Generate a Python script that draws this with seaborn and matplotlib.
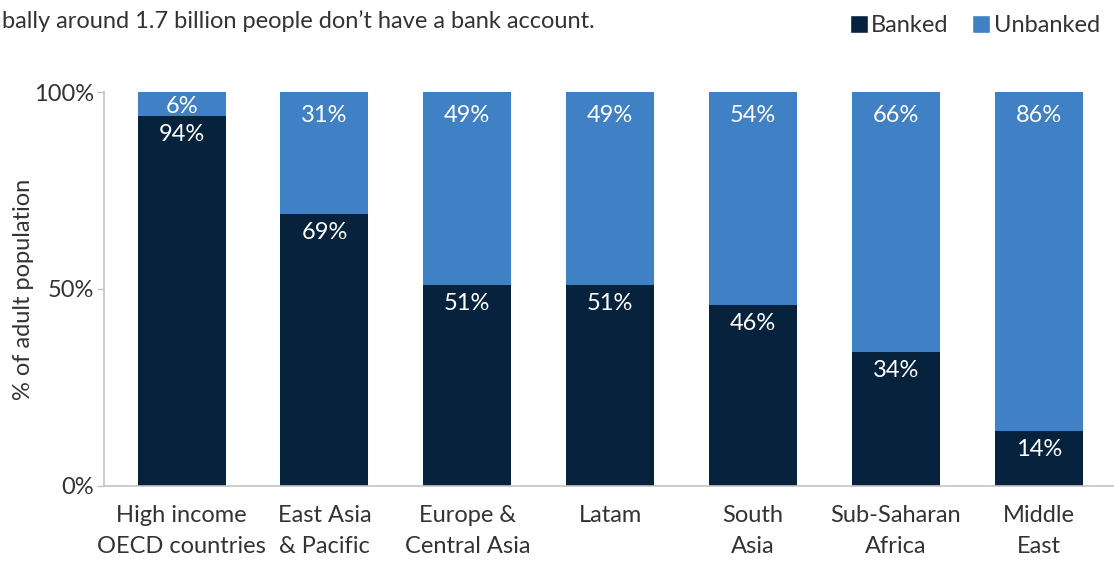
import matplotlib
matplotlib.use("Agg")
import matplotlib.pyplot as plt
import seaborn as sns
import pandas as pd
from matplotlib.patches import Patch

regions = ["High income\nOECD countries", "East Asia\n& Pacific", "Europe &\nCentral Asia",
           "Latam", "South\nAsia", "Sub-Saharan\nAfrica", "Middle\nEast"]
banked = [94, 69, 51, 51, 46, 34, 14]
unbanked = [6, 31, 49, 49, 54, 66, 86]
y_ticks = [0, 50, 100]
y_tick_labels = ["0%", "50%", "100%"]

NAVY = "#06223d"
BLUE = "#4080c4"
TXT = "#333333"
GRID = "#c4c4c4"
FS = 17

sns.set_theme(style="white")
plt.rcParams["font.family"] = ["Lato", "DejaVu Sans"]

df = pd.DataFrame({"region": regions, "banked": banked, "unbanked": unbanked})
df["total"] = df["banked"] + df["unbanked"]

fig = plt.figure(figsize=(11.15, 5.61), dpi=100)
ax = fig.add_axes([0.0933, 0.1337, 0.9047, 0.7023])

sns.barplot(data=df, x="region", y="total", color=BLUE, width=0.616, ax=ax,
            saturation=1, edgecolor="none", linewidth=0)
sns.barplot(data=df, x="region", y="banked", color=NAVY, width=0.616, ax=ax,
            saturation=1, edgecolor="none", linewidth=0)

for i, (b, u) in enumerate(zip(banked, unbanked)):
    ax.annotate(f"{b}%", (i, b), xytext=(0, -6), textcoords="offset points",
                ha="center", va="top", color="white", fontsize=FS)
    off = -3 if u < 10 else -9
    ax.annotate(f"{u}%", (i, b + u), xytext=(0, off), textcoords="offset points",
                ha="center", va="top", color="white", fontsize=FS)

ax.set_xlim(-0.543, 6.518)
ax.set_ylim(0, 100)
ax.set_yticks(y_ticks)
ax.set_yticklabels(y_tick_labels)
ax.set_xlabel("")
ax.set_ylabel("% of adult population", fontsize=FS, color=TXT)
ax.yaxis.set_label_coords(-0.069, 0.5)
ax.tick_params(axis="y", length=5, width=1, color=GRID, labelsize=FS, labelcolor=TXT, pad=2, left=True)
ax.tick_params(axis="x", length=0, labelsize=FS, labelcolor=TXT, pad=14)
for lab in ax.get_xticklabels():
    lab.set_linespacing(1.55)
sns.despine(ax=ax)
for s in ["left", "bottom"]:
    ax.spines[s].set_color(GRID)
    ax.spines[s].set_linewidth(1.2)

fig.text(0.002, 0.963, "bally around 1.7 billion people don’t have a bank account.",
         fontsize=FS, color=TXT, ha="left", va="center")

handles = [Patch(facecolor=NAVY, label="Banked"), Patch(facecolor=BLUE, label="Unbanked")]
leg = fig.legend(handles=handles, loc="upper right", bbox_to_anchor=(1.0, 1.0), ncol=2,
                 frameon=False, fontsize=FS, handlelength=0.75, handleheight=0.75,
                 handletextpad=0.15, columnspacing=1.0, borderaxespad=0.25)
for t in leg.get_texts():
    t.set_color(TXT)

fig.savefig("out.png", dpi=100)
